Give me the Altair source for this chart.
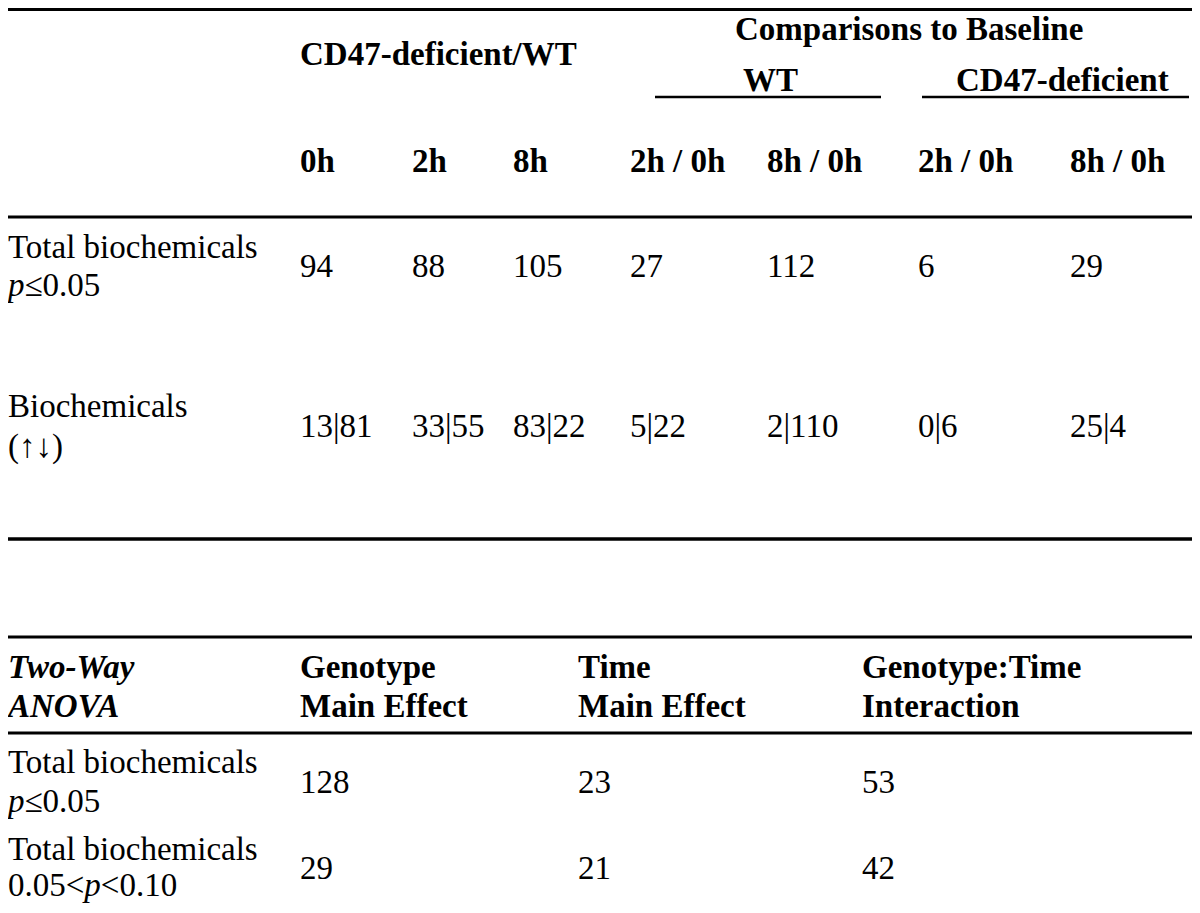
import altair as alt
import pandas as pd

group_header = "CD47-deficient/WT"
comparison_header = "Comparisons to Baseline"
sub_headers = ["WT", "CD47-deficient"]
main_columns = ["0h", "2h", "8h", "2h / 0h", "8h / 0h", "2h / 0h", "8h / 0h"]
row1_label = "Total biochemicals"
row2_label = ["Biochemicals", "(\u2191\u2193)"]
total_sig = ["94", "88", "105", "27", "112", "6", "29"]
up_down = ["13|81", "33|55", "83|22", "5|22", "2|110", "0|6", "25|4"]

anova_title = ["Two-Way", "ANOVA"]
anova_columns = [["Genotype", "Main Effect"], ["Time", "Main Effect"], ["Genotype:Time", "Interaction"]]
anova_sig = ["128", "23", "53"]
anova_trend = ["29", "21", "42"]

# ---------------- layout (pixel positions of the table grid) ----------------
FS = 33
FONT = "Liberation Serif"
col_x = [300, 412, 513, 630, 767, 918, 1070]
anova_x = [300, 578, 862]
LEFT = 8
P_W = 0.5 * FS  # width of italic "p"

bold_rows = [
    (group_header, 300, 65),
    (comparison_header, 735, 40),
    (sub_headers[0], 743, 91),
    (sub_headers[1], 956, 91),
]
bold_rows += [(c, x, 172) for c, x in zip(main_columns, col_x)]
for (l1, l2), x in zip(anova_columns, anova_x):
    bold_rows += [(l1, x, 678), (l2, x, 717)]
bold_df = pd.DataFrame(bold_rows, columns=["text", "x", "y"])

bi_df = pd.DataFrame([(anova_title[0], LEFT, 678), (anova_title[1], LEFT, 717)],
                     columns=["text", "x", "y"])

reg_rows = [
    (row1_label, LEFT, 258), ("\u22640.05", LEFT + P_W, 296),
    (row2_label[0], LEFT, 417), (row2_label[1], LEFT, 457),
    (row1_label, LEFT, 773), ("\u22640.05", LEFT + P_W, 812),
    (row1_label, LEFT, 860),
]
reg_rows += [(v, x, 277) for v, x in zip(total_sig, col_x)]
reg_rows += [(v, x, 437) for v, x in zip(up_down, col_x)]
reg_rows += [(v, x, 793) for v, x in zip(anova_sig, anova_x)]
reg_rows += [(v, x, 879) for v, x in zip(anova_trend, anova_x)]
# "0.05<p<0.10"
lt_w = (0.5 + 0.25 + 0.5 + 0.5 + 0.564) * FS
reg_rows += [("0.05<", LEFT, 896), ("<0.10", LEFT + lt_w + P_W, 896)]
reg_df = pd.DataFrame(reg_rows, columns=["text", "x", "y"])

it_df = pd.DataFrame([("p", LEFT, 296), ("p", LEFT, 812), ("p", LEFT + lt_w, 896)],
                     columns=["text", "x", "y"])

rules_df = pd.DataFrame([
    (0, 1200, 9.5, 3),
    (0, 1200, 217, 3),
    (0, 1200, 539, 3.5),
    (0, 1200, 637, 3),
    (0, 1200, 733, 3),
    (655, 881, 97, 2.5),
    (922, 1189, 97, 2.5),
], columns=["x1", "x2", "y", "w"])

xs = alt.Scale(domain=[8, 1192], nice=False, zero=False)
ys = alt.Scale(domain=[8, 905], reverse=True, nice=False, zero=False)


def text_layer(df, **style):
    return alt.Chart(df).mark_text(
        font=FONT, fontSize=FS, align="left", baseline="alphabetic", color="black", **style
    ).encode(
        x=alt.X("x:Q", scale=xs, axis=None),
        y=alt.Y("y:Q", scale=ys, axis=None),
        text="text:N",
    )


rules = alt.Chart(rules_df).mark_rule(color="black").encode(
    x=alt.X("x1:Q", scale=xs, axis=None),
    x2="x2:Q",
    y=alt.Y("y:Q", scale=ys, axis=None),
    strokeWidth=alt.StrokeWidth("w:Q", scale=None, legend=None),
)

chart = alt.layer(
    rules,
    text_layer(bold_df, fontWeight="bold"),
    text_layer(bi_df, fontWeight="bold", fontStyle="italic"),
    text_layer(reg_df),
    text_layer(it_df, fontStyle="italic"),
).properties(
    width=1184,
    height=897,
    autosize=alt.AutoSizeParams(type="none"),
    padding=0,
    background="white",
).configure_view(stroke=None)

chart.save("out.html", embed_options={"renderer": "svg", "actions": False})
